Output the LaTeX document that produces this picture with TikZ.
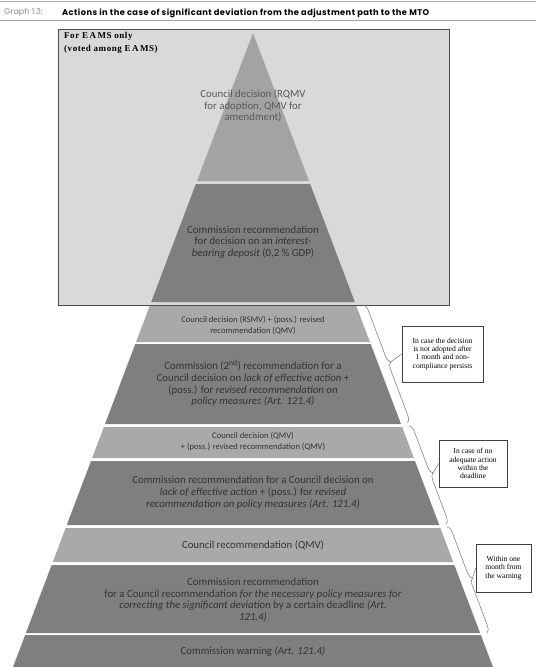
\documentclass[tikz,border=0pt]{standalone}
\usepackage{fontspec}
\setmainfont{Carlito}
\newfontfamily\notefont{Liberation Serif}
\newfontfamily\headfont{Poppins}
\usetikzlibrary{calc,decorations.pathreplacing}
\definecolor{PanelGray}{HTML}{D9D9D9}
\definecolor{TopGray}{HTML}{A3A3A3}
\definecolor{LightStep}{HTML}{A9A9A9}
\definecolor{DarkStep}{HTML}{7F7F7F}
\definecolor{InkGray}{HTML}{333333}
\definecolor{RuleGray}{HTML}{A6A6A6}

\begin{document}
\begin{tikzpicture}[x=1pt,y=-1pt,
    steptext/.style={text=InkGray,align=center,inner sep=0pt,font=\fontsize{10.8}{11.7}\selectfont},
    smalltext/.style={steptext,font=\fontsize{8.6}{11}\selectfont},
    notebox/.style={draw=black!75,fill=white,line width=0.6pt,align=center,inner sep=1pt,font=\notefont\fontsize{7.6}{8.2}\selectfont},
    bracket/.style={draw=black!55,line width=0.5pt,decorate,decoration={brace,amplitude=6pt}},
    tieline/.style={draw=black!55,line width=0.5pt}]
  \useasboundingbox (0,0) rectangle (536,667);
  % header
  \draw[RuleGray,line width=0.8pt] (0,1.5) -- (536,1.5);
  \draw[RuleGray,line width=0.8pt] (0,20.5) -- (536,20.5);
  \node[anchor=west,inner sep=0pt,text=black!45,font=\headfont\fontsize{8.1}{9}\selectfont] (graphno) at (4,13) {Graph 1.3:};
  \node[anchor=west,inner sep=0pt,font=\headfont\bfseries\fontsize{8.3}{9}\selectfont\addfontfeature{LetterSpace=5}] (title) at (62,13)
    {Actions in the case of significant deviation from the adjustment path to the MTO};
  % EAMS panel
  \draw[fill=PanelGray,draw=black!70,line width=0.8pt] (58,29) rectangle (449,305);
  \node[anchor=north west,align=left,inner sep=0pt,font=\notefont\bfseries\fontsize{9}{13.5}\selectfont\addfontfeature{LetterSpace=6}] (eams) at (64,32)
    {For E\,A\,MS only\\(voted among E\,A\,MS)};
  % pyramid steps
  \foreach \yt/\yb/\col in {33/181/TopGray,184/302/DarkStep,306/342/LightStep,344/424/DarkStep,
      427/458/LightStep,461/525/DarkStep,528/562/LightStep,565/633/DarkStep,635/667/DarkStep}
    \fill[\col] ({253-0.3785*(\yt-33)},\yt) -- ({253+0.3785*(\yt-33)},\yt)
      -- ({253+0.3785*(\yb-33)},\yb) -- ({253-0.3785*(\yb-33)},\yb) -- cycle;
  \node[steptext,text=black!65] (cdrqmv) at (253,106) {Council decision (RQMV\\for adoption, QMV for\\amendment)};
  \node[steptext] (cmdeposit) at (253,242) {Commission recommendation\\for decision on an \textit{interest-}\\\textit{bearing deposit} (0,2 \% GDP)};
  \node[smalltext] (cdrsmv) at (253,325.5) {Council decision (RSMV) + (poss.) revised\\recommendation (QMV)};
  \node[steptext] (cmlacktwo) at (253,383.5) {Commission (2\textsuperscript{nd}) recommendation for a\\Council decision on \textit{lack of effective action} +\\(poss.) for \textit{revised recommendation on}\\\textit{policy measures (Art. 121.4)}};
  \node[smalltext] (cdqmv) at (253,442) {Council decision (QMV)\\+ (poss.) revised recommendation (QMV)};
  \node[steptext] (cmlack) at (253,492.5) {Commission recommendation for a Council decision on\\\textit{lack of effective action} + (poss.) for \textit{revised}\\\textit{recommendation on policy measures (Art. 121.4)}};
  \node[steptext] (crqmv) at (253,545) {Council recommendation (QMV)};
  \node[steptext] (cmmeasures) at (253,600) {Commission recommendation\\for a Council recommendation \textit{for the necessary policy measures for}\\\textit{correcting the significant deviation} by a certain deadline \textit{(Art.}\\\textit{121.4)}};
  \node[steptext] (cwarning) at (253,651.5) {Commission warning \textit{(Art. 121.4)}};
  % side notes
  \node[notebox,minimum width=81pt,minimum height=56pt] (notemonth) at (442.5,354)
    {In case the decision\\is not adopted after\\1 month and non-\\compliance persists};
  \node[notebox,minimum width=68pt,minimum height=47pt] (notedeadline) at (473,463.5)
    {In case of no\\adequate action\\within the\\deadline};
  \node[notebox,minimum width=55pt,minimum height=48pt] (notewarning) at (503.5,568)
    {Within one\\month from\\the warning};
  % braces
  \coordinate (bramonthA) at (363,305);
  \coordinate (bramonthB) at (407.5,423);
  \coordinate (bradeadA) at (409,426);
  \coordinate (bradeadB) at (446,524);
  \coordinate (brawarnA) at (447,527);
  \coordinate (brawarnB) at (487,633);
  \draw[bracket] (bramonthA) -- (bramonthB);
  \draw[bracket] (bradeadA) -- (bradeadB);
  \draw[bracket] (brawarnA) -- (brawarnB);
  \coordinate (tipmonth) at ($(bramonthA)!0.5!(bramonthB)!6pt!90:(bramonthB)$);
  \coordinate (tipdead) at ($(bradeadA)!0.5!(bradeadB)!6pt!90:(bradeadB)$);
  \coordinate (tipwarn) at ($(brawarnA)!0.5!(brawarnB)!6pt!90:(brawarnB)$);
  \draw[tieline] (tipmonth) -- (notemonth.west);
  \draw[tieline] (tipdead) -- (notedeadline.west);
  \draw[tieline] (tipwarn) -- (notewarning.west);
\end{tikzpicture}
\end{document}
